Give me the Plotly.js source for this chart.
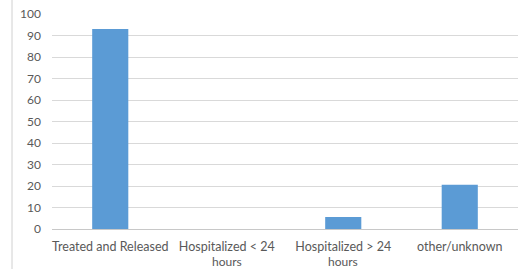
<!DOCTYPE html>
<html>
<head>
<meta charset="utf-8">
<script src="https://cdn.plot.ly/plotly-3.0.1.min.js"></script>
<style>html,body{margin:0;padding:0;background:#fff;}#chart{width:520px;height:269px;}</style>
</head>
<body>
<div id="chart"></div>
<script>
const categories = ["Treated and Released", "Hospitalized &lt; 24", "Hospitalized &gt; 24", "other/unknown"];
const secondLines = ["", "hours", "hours", ""];
const values = [93, 0, 5.6, 20.6];
const yTicks = [0, 10, 20, 30, 40, 50, 60, 70, 80, 90, 100];

const trace = {
  type: "bar",
  x: [0, 1, 2, 3],
  y: values,
  marker: { color: "#5B9BD5" },
  hoverinfo: "none"
};

const annotations = secondLines.map((t, i) => ({
  x: i, xref: "x", y: 0, yref: "paper", yshift: -32,
  text: t, showarrow: false, xanchor: "center", yanchor: "middle",
  font: { size: 12, color: "#595959" }
})).filter(a => a.text);

const layout = {
  width: 520,
  height: 269,
  margin: { l: 52, r: 2, t: 14, b: 40 },
  paper_bgcolor: "#ffffff",
  plot_bgcolor: "#ffffff",
  showlegend: false,
  bargap: 0.69,
  font: { family: "Lato, 'Liberation Sans', sans-serif", size: 12, color: "#595959" },
  xaxis: {
    tickmode: "array",
    tickvals: [0, 1, 2, 3],
    ticktext: categories,
    range: [-0.5, 3.5],
    showgrid: false,
    zeroline: false,
    showline: false,
    ticks: "",
    ticklabelstandoff: 8,
    tickfont: { size: 12.5, color: "#595959" }
  },
  yaxis: {
    range: [0, 100],
    tickmode: "array",
    tickvals: yTicks,
    ticktext: yTicks.map(String),
    showgrid: true,
    gridcolor: "#d9d9d9",
    gridwidth: 1,
    zeroline: true,
    zerolinecolor: "#c8c8c8",
    zerolinewidth: 1,
    showline: false,
    ticks: "",
    ticklen: 0,
    ticklabelstandoff: 10,
    tickfont: { size: 12, color: "#595959" }
  },
  annotations: annotations,
  shapes: [
    { type: "line", xref: "paper", yref: "paper", x0: -0.0858, x1: -0.0858, y0: -0.2, y1: 1.1,
      line: { color: "#d0d0d0", width: 1 } }
  ]
};

Plotly.newPlot("chart", [trace], layout, { staticPlot: true, displayModeBar: false });
</script>
</body>
</html>
